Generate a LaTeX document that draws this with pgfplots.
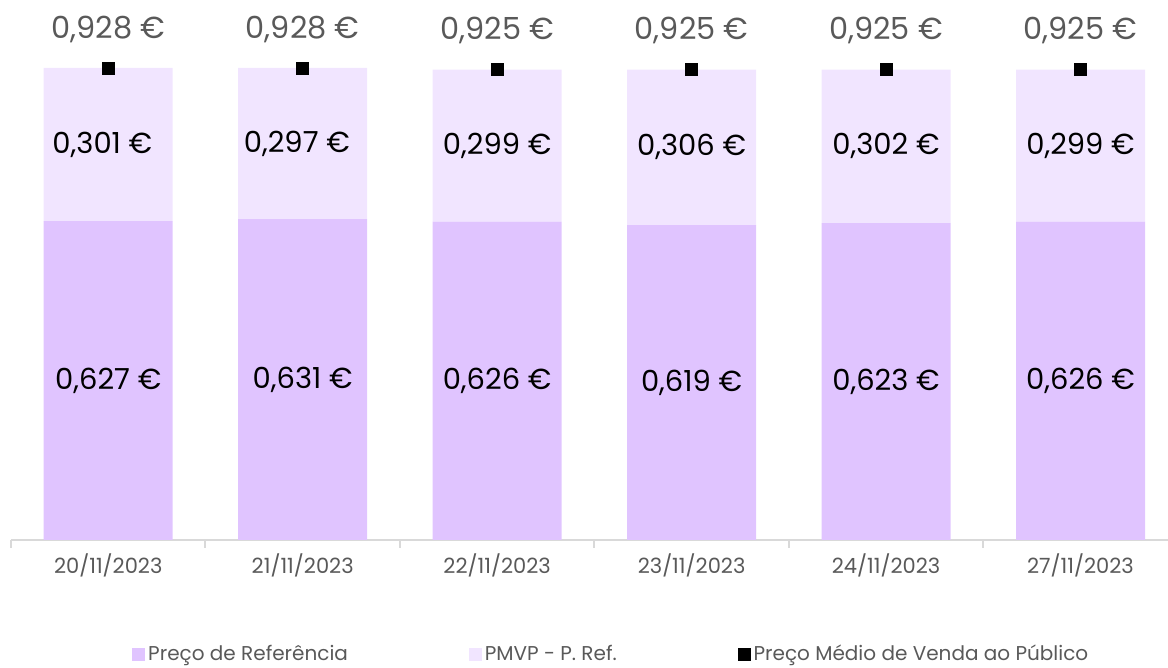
\documentclass[border=0pt]{standalone}
\usepackage{fontspec}
\setmainfont{Poppins}
\usepackage{pgfplots}
\pgfplotsset{compat=1.18}
\definecolor{refc}{HTML}{E0C4FF}
\definecolor{diffc}{HTML}{F1E5FF}
\definecolor{txtgray}{HTML}{595959}
\definecolor{axgray}{HTML}{D9D9D9}
\newcommand{\vfont}{\fontsize{14.5}{17}\selectfont}
\newcommand{\tfont}{\fontsize{15.2}{18}\selectfont}
\newcommand{\kfont}{\fontsize{10.5}{13}\selectfont}
\newcommand{\lfont}{\fontsize{10}{12}\selectfont}
\tikzset{vlab/.style={font=\vfont, text=black}, tlab/.style={font=\tfont, text=txtgray}}
\pgfplotsset{common/.style={
  scale only axis, width=578.5pt, height=270pt,
  xmin=-0.5, xmax=5.45, ymin=0, ymax=1.0617, clip=false}}
\begin{document}
\begin{tikzpicture}
\begin{axis}[common,
  ybar stacked, bar width=64.5pt,
  axis y line=none, axis x line*=bottom,
  x axis line style={axgray, line width=1pt},
  xtick={0,...,5},
  xticklabels={20/11/2023,21/11/2023,22/11/2023,23/11/2023,24/11/2023,27/11/2023},
  major tick length=0pt,
  minor xtick={-0.5,0.5,1.5,2.5,3.5,4.5,5.5},
  minor tick length=4pt, tick align=outside,
  every minor tick/.style={axgray, line width=1pt},
  xticklabel style={font=\kfont, text=txtgray, anchor=center, yshift=-12.5pt},
]
\addplot[fill=refc, draw=none]
  coordinates {(0,0.627) (1,0.631) (2,0.626) (3,0.619) (4,0.623) (5,0.626)};
\addplot[fill=diffc, draw=none]
  coordinates {(0,0.301) (1,0.297) (2,0.299) (3,0.306) (4,0.302) (5,0.299)};
\coordinate (bl) at (rel axis cs:0,0);
\coordinate (tr) at (rel axis cs:1,1);
\end{axis}
\begin{axis}[common, axis lines=none,
  legend columns=3,
  legend cell align=left,
  legend style={at={(0.1046,-0.2110)}, anchor=west, draw=none, fill=none, inner sep=0pt,
    font=\lfont, text=txtgray,
    nodes={inner sep=1.5pt},
    /tikz/every even column/.append style={column sep=59pt}},
]
\addlegendimage{legend image code/.code={\fill[refc] (0pt,-3pt) rectangle (6pt,3pt);}}
\addlegendentry{Preço de Referência}
\addlegendimage{legend image code/.code={\fill[diffc] (0pt,-3pt) rectangle (6pt,3pt);}}
\addlegendentry{PMVP - P. Ref.}
\addplot[only marks, mark=square*, mark size=3pt,
  mark options={fill=black, draw=none},
  legend image code/.code={\fill[black] (0pt,-3pt) rectangle (6pt,3pt);}]
  coordinates {(0,0.928) (1,0.928) (2,0.925) (3,0.925) (4,0.925) (5,0.925)};
\addlegendentry{Preço Médio de Venda ao Público}
\node[vlab] at (axis cs:0,0.3135) {0,627 €};
\node[vlab] at (axis cs:1,0.3155) {0,631 €};
\node[vlab] at (axis cs:2,0.3130) {0,626 €};
\node[vlab] at (axis cs:3,0.3095) {0,619 €};
\node[vlab] at (axis cs:4,0.3115) {0,623 €};
\node[vlab] at (axis cs:5,0.3130) {0,626 €};
\node[vlab] at (axis cs:-0.03,0.7775) {0,301 €};
\node[vlab] at (axis cs:0.97,0.7795) {0,297 €};
\node[vlab] at (axis cs:2,0.7755) {0,299 €};
\node[vlab] at (axis cs:3,0.7720) {0,306 €};
\node[vlab] at (axis cs:4,0.7740) {0,302 €};
\node[vlab] at (axis cs:5,0.7755) {0,299 €};
\node[tlab] at (axis cs:0,1.004) {0,928 €};
\node[tlab] at (axis cs:1,1.004) {0,928 €};
\node[tlab] at (axis cs:2,1.001) {0,925 €};
\node[tlab] at (axis cs:3,1.001) {0,925 €};
\node[tlab] at (axis cs:4,1.001) {0,925 €};
\node[tlab] at (axis cs:5,1.001) {0,925 €};
\end{axis}
\pgfresetboundingbox
\path[use as bounding box] ([shift={(-5.5pt,-64pt)}]bl) rectangle (tr);
\end{tikzpicture}
\end{document}
